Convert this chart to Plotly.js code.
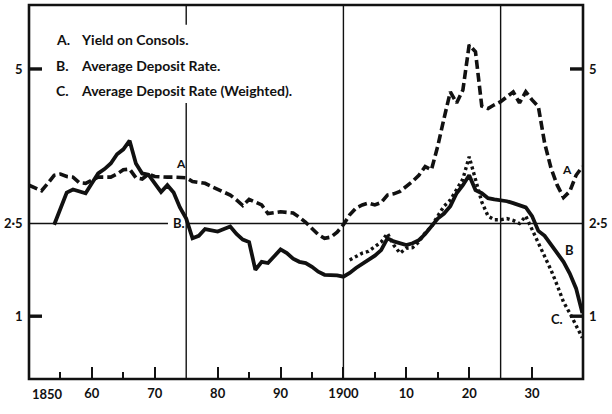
<!DOCTYPE html>
<html>
<head>
<meta charset="utf-8">
<script src="https://cdn.plot.ly/plotly-3.0.1.min.js"></script>
<style>
  html, body { margin: 0; padding: 0; background: #fff; }
  #chart { width: 612px; height: 414px; }
</style>
</head>
<body>
<div id="chart"></div>
<script>
// A. Yield on Consols, annual, 1850-1938 (per cent)
const consolStart = 1850;
const consolYield = [
  3.12, 3.08, 3.03, 3.15, 3.28, 3.30, 3.26, 3.25, 3.16, 3.15,
  3.20, 3.25, 3.25, 3.25, 3.30, 3.37, 3.38, 3.24, 3.22, 3.30,
  3.26, 3.25, 3.25, 3.25, 3.25, 3.24, 3.18, 3.16, 3.15, 3.10,
  3.05, 3.00, 2.96, 2.88, 2.79, 2.89, 2.85, 2.80, 2.66, 2.68,
  2.69, 2.68, 2.67, 2.60, 2.52, 2.42, 2.32, 2.26, 2.28, 2.36,
  2.48, 2.64, 2.75, 2.80, 2.83, 2.80, 2.84, 2.96, 2.98, 3.02,
  3.10, 3.18, 3.28, 3.42, 3.37, 3.75, 4.20, 4.63, 4.45, 4.66,
  5.39, 5.28, 4.40, 4.36, 4.42, 4.47, 4.55, 4.63, 4.45, 4.63,
  4.50, 4.39, 3.80, 3.40, 3.12, 2.92, 3.02, 3.28, 3.42
];

// B. Average Deposit Rate, annual, 1854-1938
const depositStart = 1854;
const depositRate = [
  2.48, 2.75, 3.00, 3.05, 3.02, 2.99,
  3.15, 3.31, 3.38, 3.47, 3.62, 3.70, 3.84, 3.47, 3.31, 3.29,
  3.15, 3.01, 3.12, 3.00, 2.76, 2.58, 2.26, 2.30, 2.41, 2.39,
  2.37, 2.41, 2.45, 2.33, 2.24, 2.20, 1.75, 1.88, 1.86, 1.97,
  2.08, 2.02, 1.93, 1.88, 1.86, 1.80, 1.72, 1.67, 1.67, 1.66,
  1.64, 1.70, 1.78, 1.85, 1.92, 1.98, 2.07, 2.26, 2.21, 2.18,
  2.15, 2.18, 2.23, 2.33, 2.45, 2.58, 2.66, 2.78, 2.99, 3.12,
  3.28, 3.04, 2.99, 2.91, 2.89, 2.88, 2.86, 2.83, 2.80, 2.76,
  2.62, 2.38, 2.30, 2.15, 2.02, 1.88, 1.69, 1.45, 1.05
];

// C. Average Deposit Rate (Weighted), annual, 1901-1938
const weightedStart = 1901;
const weightedRate = [
  1.91, 1.97, 2.02, 2.05, 2.12, 2.20, 2.34, 2.15, 2.02,
  2.10, 2.11, 2.20, 2.35, 2.45, 2.62, 2.78, 2.88, 3.05, 3.22,
  3.58, 3.20, 2.85, 2.62, 2.56, 2.56, 2.58, 2.55, 2.50, 2.62,
  2.40, 2.20, 1.98, 1.75, 1.50, 1.23, 1.05, 0.86, 0.65
];

// Axis ticks and labels
const xTickVals = [1860, 1870, 1880, 1890, 1900, 1910, 1920, 1930];
const xTickText = ['60', '70', '80', '90', '1900', '10', '20', '30'];
const xMinorVals = [1855, 1865, 1885, 1895, 1905, 1915];
const yTickVals = [1, 2.5, 5];
const yTickText = ['1', '2·5', '5'];
const yMarkedVals = [1, 5];   // short inward ticks on both sides

const legendKeys = ['A.', 'B.', 'C.'];
const legendTexts = ['Yield on Consols.', 'Average Deposit Rate.', 'Average Deposit Rate (Weighted).'];

function yearsFrom(start, n) {
  const out = [];
  for (let i = 0; i < n; i++) out.push(start + i);
  return out;
}

const INK = '#111';
const FONT = 'Lato, "Open Sans", "DejaVu Sans", sans-serif';

const traces = [
  {
    x: yearsFrom(consolStart, consolYield.length), y: consolYield,
    mode: 'lines', line: { color: INK, width: 3.6, dash: '9px,4px' },
    hoverinfo: 'skip', showlegend: false
  },
  {
    x: yearsFrom(depositStart, depositRate.length), y: depositRate,
    mode: 'lines', line: { color: INK, width: 3.8 },
    hoverinfo: 'skip', showlegend: false
  },
  {
    x: yearsFrom(weightedStart, weightedRate.length), y: weightedRate,
    mode: 'lines', line: { color: INK, width: 3.4, dash: '3px,3px' },
    hoverinfo: 'skip', showlegend: false
  }
];

const yRange = [-0.016, 6.035];
const xRange = [1850, 1938.1];
const xPerPx = (xRange[1] - xRange[0]) / (612 - 29 - 29);
const tickSpan = 13 * xPerPx;   // 13px inward tick, expressed on the year axis

const shapes = [
  // frame
  { type: 'rect', xref: 'paper', yref: 'paper', x0: 0, x1: 1, y0: 0, y1: 1,
    line: { color: INK, width: 2.6 } },
  // 1875 divider, broken behind the key text
  { type: 'line', xref: 'x', yref: 'paper', x0: 1875, x1: 1875, y0: 0.947, y1: 1,
    line: { color: INK, width: 1.4 } },
  { type: 'line', xref: 'x', yref: 'paper', x0: 1875, x1: 1875, y0: 0, y1: 0.738,
    line: { color: INK, width: 1.4 } },
  { type: 'line', xref: 'x', yref: 'paper', x0: 1900, x1: 1900, y0: 0, y1: 1,
    line: { color: INK, width: 1.4 } },
  { type: 'line', xref: 'x', yref: 'paper', x0: 1925, x1: 1925, y0: 0, y1: 1,
    line: { color: INK, width: 1.4 } },
  // 2.5 reference line, broken at the "B." label
  { type: 'line', xref: 'x', yref: 'y', x0: xRange[0], x1: 1872.1, y0: 2.5, y1: 2.5,
    line: { color: INK, width: 1.6 } },
  { type: 'line', xref: 'x', yref: 'y', x0: 1875, x1: xRange[1], y0: 2.5, y1: 2.5,
    line: { color: INK, width: 1.6 } }
];
// inward y ticks on left and right frame
yMarkedVals.forEach(v => {
  shapes.push({ type: 'line', xref: 'x', yref: 'y', x0: xRange[0], x1: xRange[0] + tickSpan, y0: v, y1: v,
    line: { color: INK, width: 3.4 } });
  shapes.push({ type: 'line', xref: 'x', yref: 'y', x0: xRange[1] - tickSpan, x1: xRange[1], y0: v, y1: v,
    line: { color: INK, width: 3.4 } });
});

const annotations = [];
const keyRowsY = [0.907, 0.838, 0.771];
for (let i = 0; i < legendKeys.length; i++) {
  annotations.push({
    xref: 'paper', yref: 'paper', x: 0.045, y: keyRowsY[i], xanchor: 'left', yanchor: 'middle',
    text: legendKeys[i], showarrow: false, font: { family: FONT, size: 14, color: INK, weight: 'bold' }
  });
  annotations.push({
    xref: 'paper', yref: 'paper', x: 0.091, y: keyRowsY[i], xanchor: 'left', yanchor: 'middle',
    text: legendTexts[i], showarrow: false, font: { family: FONT, size: 14, color: INK, weight: 'bold' }
  });
}
// y scale labels on both sides
for (let i = 0; i < yTickVals.length; i++) {
  annotations.push({
    xref: 'paper', yref: 'y', x: 0, y: yTickVals[i], xanchor: 'right', yanchor: 'middle', xshift: -4,
    text: yTickText[i], showarrow: false, font: { family: FONT, size: 13, color: INK, weight: 'bold' }
  });
  annotations.push({
    xref: 'paper', yref: 'y', x: 1, y: yTickVals[i], xanchor: 'left', yanchor: 'middle', xshift: 4,
    text: yTickText[i], showarrow: false, font: { family: FONT, size: 13, color: INK, weight: 'bold' }
  });
}
// curve labels
const curveLabels = [
  { text: 'A', x: 1874.1, y: 3.47, size: 12 },
  { text: 'A', x: 1935.6, y: 3.38, size: 12 },
  { text: 'B.', x: 1873.8, y: 2.50, size: 13 },
  { text: 'B', x: 1935.9, y: 2.07, size: 13 },
  { text: 'C.', x: 1934.0, y: 0.95, size: 13 }
];
curveLabels.forEach(l => annotations.push({
  xref: 'x', yref: 'y', x: l.x, y: l.y, text: l.text, showarrow: false,
  xanchor: 'center', yanchor: 'middle', font: { family: FONT, size: l.size, color: INK, weight: 'bold' }
}));
// first year label sits just inside the left edge
annotations.push({
  xref: 'paper', yref: 'paper', x: 0.002, y: 0, yshift: -15, xanchor: 'left', yanchor: 'middle',
  text: '1850', showarrow: false, font: { family: FONT, size: 13, color: INK, weight: 'bold' }
});

const tickFont = { family: FONT, size: 13, color: INK, weight: 'bold' };

const layout = {
  width: 612, height: 414,
  margin: { l: 29, r: 29, t: 5, b: 35 },
  paper_bgcolor: '#fff', plot_bgcolor: '#fff',
  showlegend: false,
  xaxis: {
    range: xRange, tickmode: 'array', tickvals: xTickVals, ticktext: xTickText,
    ticks: 'inside', ticklen: 12, tickwidth: 2, tickcolor: INK,
    minor: { tickmode: 'array', tickvals: xMinorVals, ticks: 'inside', ticklen: 7, tickwidth: 2, tickcolor: INK, showgrid: false },
    showgrid: false, zeroline: false, showline: false, fixedrange: true,
    ticklabelstandoff: 5,
    tickfont: tickFont
  },
  yaxis: {
    range: yRange, showticklabels: false, ticks: '',
    showgrid: false, zeroline: false, showline: false, fixedrange: true
  },
  shapes: shapes,
  annotations: annotations
};

Plotly.newPlot('chart', traces, layout, { displayModeBar: false, staticPlot: true });
</script>
</body>
</html>
